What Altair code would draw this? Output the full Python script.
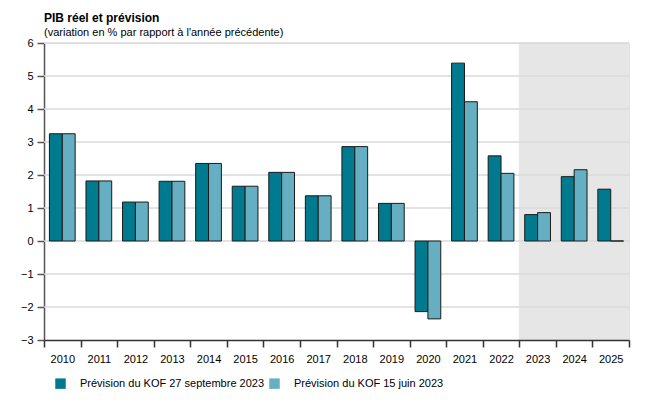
import altair as alt
import pandas as pd

years = [str(y) for y in range(2010, 2026)]
kof_sep = [3.25, 1.82, 1.18, 1.81, 2.35, 1.66, 2.08, 1.37, 2.86, 1.14, -2.14, 5.39, 2.58, 0.80, 1.95, 1.57]
kof_jun = [3.25, 1.82, 1.18, 1.81, 2.35, 1.66, 2.08, 1.37, 2.86, 1.14, -2.36, 4.22, 2.05, 0.86, 2.16, 0.0]
series = ["Prévision du KOF 27 septembre 2023", "Prévision du KOF 15 juin 2023"]
colors = ["#007A8F", "#66AFC2"]
forecast_years = ["2023", "2024", "2025"]
y_ticks = [-3, -2, -1, 0, 1, 2, 3, 4, 5, 6]

rows = []
for i, y in enumerate(years):
    rows.append({"year": y, "series": series[0], "value": kof_sep[i]})
    rows.append({"year": y, "series": series[1], "value": kof_jun[i]})
df = pd.DataFrame(rows)
shade = pd.DataFrame({"year": forecast_years, "top": [6] * 3, "bottom": [-3] * 3})

FONT = "Liberation Sans"

xscale = alt.Scale(domain=years, paddingInner=0, paddingOuter=0)
yscale = alt.Scale(domain=[-3, 6], nice=False)

xaxis = alt.Axis(title=None, labelAngle=0, tickBand="extent", grid=False,
                 domainColor="#333", domainWidth=1.5, tickColor="#333", tickWidth=1.5,
                 tickSize=7, labelFontSize=11, labelFont=FONT, labelColor="#000",
                 labelPadding=6)
yaxis = alt.Axis(title=None, values=y_ticks, labelOverlap=False, labelSeparation=0,
                 grid=False, domainColor="#555", domainWidth=1.5,
                 tickColor="#555", tickWidth=1.5, tickSize=7,
                 labelFontSize=11, labelFont=FONT, labelColor="#000",
                 labelPadding=4)

bg = alt.Chart(shade).mark_rect(color="#E6E6E6", stroke="#E6E6E6", strokeWidth=1).encode(
    x=alt.X("year:N", scale=xscale, axis=xaxis),
    y=alt.Y("top:Q", scale=yscale, axis=yaxis),
    y2="bottom:Q",
)

grid = alt.Chart(pd.DataFrame({"v": y_ticks[1:]})).mark_rule(
    color="#DADADA", strokeWidth=1.5
).encode(y=alt.Y("v:Q", scale=yscale, axis=yaxis))

bars = alt.Chart(df).mark_bar(stroke="#1a1a1a", strokeWidth=1).encode(
    x=alt.X("year:N", scale=xscale, axis=xaxis),
    xOffset=alt.XOffset("series:N", sort=series,
                        scale=alt.Scale(paddingOuter=0.42, paddingInner=0)),
    y=alt.Y("value:Q", scale=yscale, axis=yaxis),
    color=alt.Color("series:N", sort=series,
                    scale=alt.Scale(domain=series, range=colors),
                    legend=alt.Legend(title=None, orient="none", direction="horizontal",
                                      legendX=11, legendY=335,
                                      symbolType="square", symbolSize=110,
                                      symbolStrokeWidth=0, labelFontSize=11,
                                      labelFont=FONT, labelColor="#000", labelLimit=400,
                                      columnPadding=4, labelOffset=14)),
)

chart = alt.layer(bg, grid, bars).properties(
    width=585, height=297,
    title=alt.TitleParams(
        text="PIB réel et prévision",
        subtitle="(variation en % par rapport à l'année précédente)",
        anchor="start", frame="group", font=FONT, fontSize=12, fontWeight="bold", color="#000",
        subtitleFont=FONT, subtitleFontSize=11, subtitleColor="#000",
        subtitlePadding=2, offset=-2,
    ),
).configure_view(stroke=None).configure(padding={"left": 12, "top": 4, "right": 5, "bottom": 5})

chart.save("out.html", embed_options={"renderer": "svg", "actions": False})
